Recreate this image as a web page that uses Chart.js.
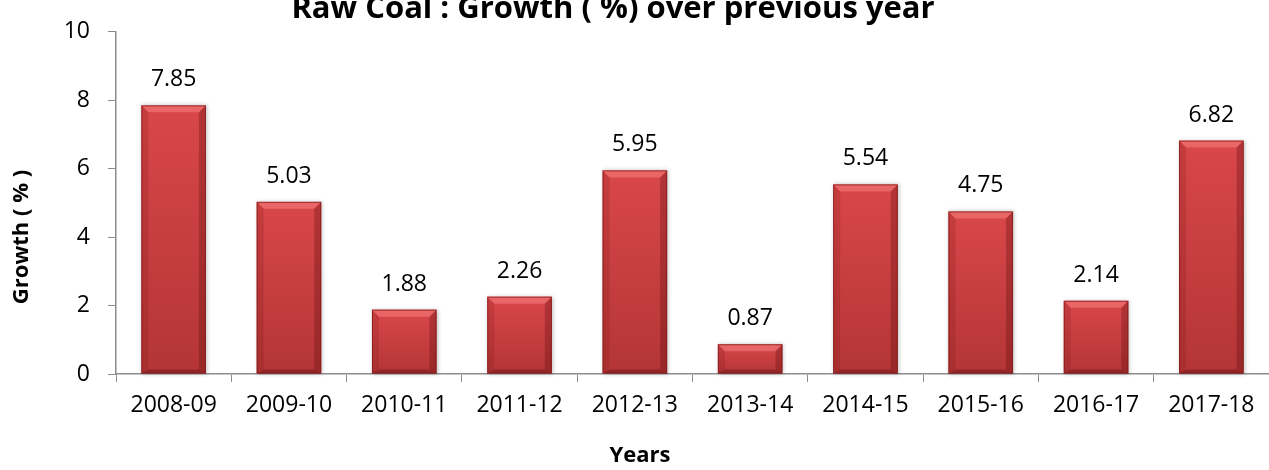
<!DOCTYPE html>
<html>
<head>
<meta charset="utf-8">
<script src="https://cdn.jsdelivr.net/npm/chart.js@4"></script>
<style>
  html, body { margin: 0; padding: 0; background: #fff; }
  #wrap { width: 1269px; height: 470px; position: relative; }
</style>
</head>
<body>
<div id="wrap"><canvas id="coalChart"></canvas></div>
<script>
const years = ['2008-09', '2009-10', '2010-11', '2011-12', '2012-13', '2013-14', '2014-15', '2015-16', '2016-17', '2017-18']
const growth = [7.85, 5.03, 1.88, 2.26, 5.95, 0.87, 5.54, 4.75, 2.14, 6.82]
const yTicks = [0, 2, 4, 6, 8, 10]

const chartTitle = 'Raw Coal : Growth ( %) over previous year'
const xTitle = 'Years'
const yTitle = 'Growth ( % )'

const FONT = '"Open Sans", sans-serif'
const TEXT = '#000'
const AXIS = '#8c8c8c'

// bevelled red bars painted over the library's bar rectangles
const bevelBars = {
    id: 'bevelBars',
    afterDatasetsDraw(chart) {
        const ctx = chart.ctx
        const meta = chart.getDatasetMeta(0)
        meta.data.forEach(bar => {
            const l = bar.x - bar.width / 2
            const r = bar.x + bar.width / 2
            const t = bar.y
            const b = bar.base
            const bv = Math.min(7, (b - t) / 2)
            const bb = Math.min(4, (b - t) / 4)

            ctx.save()
            ctx.shadowColor = 'rgba(0,0,0,0.25)'
            ctx.shadowBlur = 4
            ctx.shadowOffsetX = 1
            ctx.shadowOffsetY = 0
            const g = ctx.createLinearGradient(0, t, 0, b)
            g.addColorStop(0, '#d9474a')
            g.addColorStop(1, '#b43536')
            ctx.fillStyle = g
            ctx.fillRect(l, t, r - l, b - t)
            ctx.restore()

            ctx.save()
            // top bevel
            ctx.fillStyle = 'rgba(255,140,140,0.45)'
            ctx.beginPath()
            ctx.moveTo(l, t); ctx.lineTo(r, t); ctx.lineTo(r - bv, t + bv); ctx.lineTo(l + bv, t + bv); ctx.closePath()
            ctx.fill()
            // left bevel
            ctx.fillStyle = 'rgba(120,20,20,0.2)'
            ctx.beginPath()
            ctx.moveTo(l, t); ctx.lineTo(l + bv, t + bv); ctx.lineTo(l + bv, b - bb); ctx.lineTo(l, b); ctx.closePath()
            ctx.fill()
            // right bevel
            ctx.fillStyle = 'rgba(90,10,10,0.3)'
            ctx.beginPath()
            ctx.moveTo(r, t); ctx.lineTo(r - bv, t + bv); ctx.lineTo(r - bv, b - bb); ctx.lineTo(r, b); ctx.closePath()
            ctx.fill()
            // bottom bevel
            ctx.fillStyle = 'rgba(80,10,10,0.35)'
            ctx.beginPath()
            ctx.moveTo(l, b); ctx.lineTo(l + bv, b - bb); ctx.lineTo(r - bv, b - bb); ctx.lineTo(r, b); ctx.closePath()
            ctx.fill()
            // outline
            ctx.strokeStyle = 'rgba(130,25,25,0.75)'
            ctx.lineWidth = 1
            ctx.strokeRect(l + 0.5, t + 0.5, r - l - 1, b - t - 1)
            ctx.restore()
        })
    }
}

// value labels above bars, plus chart and axis titles
const labelsAndTitles = {
    id: 'labelsAndTitles',
    afterDraw(chart) {
        const ctx = chart.ctx
        const meta = chart.getDatasetMeta(0)
        ctx.save()
        ctx.fillStyle = TEXT
        ctx.textAlign = 'center'
        ctx.textBaseline = 'alphabetic'
        ctx.font = '23px ' + FONT
        meta.data.forEach((bar, i) => {
            ctx.fillText(growth[i].toFixed(2), bar.x, bar.y - 19)
        })

        ctx.font = 'bold 31px ' + FONT
        ctx.fillText(chartTitle, 613, 18)

        ctx.font = 'bold 22px ' + FONT
        ctx.textBaseline = 'middle'
        ctx.fillText(xTitle, 640, 456)

        ctx.translate(22, 237)
        ctx.rotate(-Math.PI / 2)
        ctx.fillText(yTitle, 0, 0)
        ctx.restore()
    }
}

const ctx = document.getElementById('coalChart')
const coalChart = new Chart(ctx, {
    type: 'bar',
    data: {
        labels: years,
        datasets: [
            {
                label: 'Growth',
                data: growth,
                backgroundColor: 'rgba(0,0,0,0)',
                borderWidth: 0,
                categoryPercentage: 1,
                barPercentage: 0.56
            }
        ]
    },
    options: {
        responsive: true,
        maintainAspectRatio: false,
        animation: false,
        layout: {
            padding: { top: 23, right: 0, bottom: 0, left: 0 }
        },
        plugins: {
            legend: { display: false },
            title: { display: false },
            tooltip: { enabled: false }
        },
        scales: {
            x: {
                offset: true,
                grid: {
                    drawOnChartArea: false,
                    drawTicks: true,
                    tickLength: 8,
                    color: AXIS,
                    offset: true
                },
                border: { display: true, color: AXIS, width: 1.5 },
                ticks: {
                    color: TEXT,
                    padding: 10,
                    maxRotation: 0,
                    font: { family: FONT, size: 23 }
                },
                afterFit(scale) { scale.height = 96 }
            },
            y: {
                min: 0,
                max: 10,
                afterBuildTicks(scale) {
                    scale.ticks = yTicks.map(v => ({ value: v }))
                },
                grid: {
                    drawOnChartArea: false,
                    drawTicks: true,
                    tickLength: 8,
                    color: AXIS
                },
                border: { display: true, color: AXIS, width: 1.5 },
                ticks: {
                    color: TEXT,
                    padding: 18,
                    font: { family: FONT, size: 23 }
                },
                afterFit(scale) { scale.width = 116 }
            }
        }
    },
    plugins: [bevelBars, labelsAndTitles]
})
</script>
</body>
</html>
